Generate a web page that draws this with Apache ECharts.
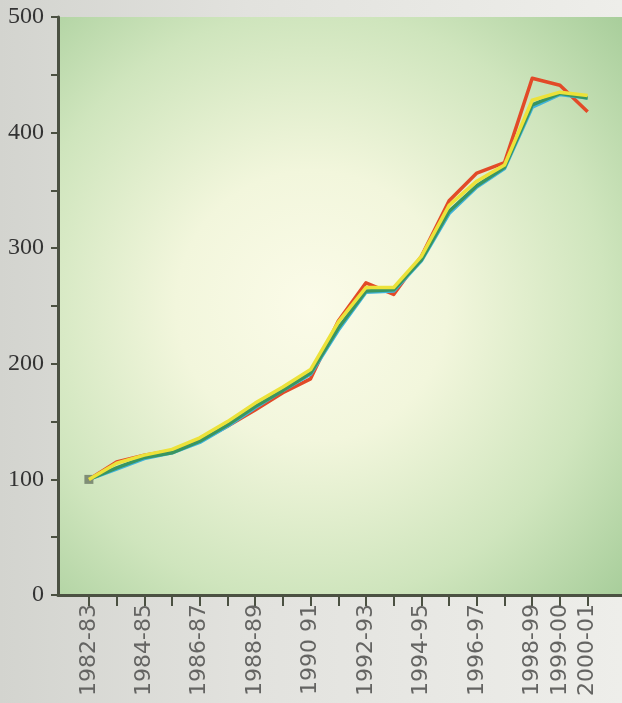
<!DOCTYPE html>
<html>
<head>
<meta charset="utf-8">
<script src="https://cdn.jsdelivr.net/npm/echarts@6/dist/echarts.min.js"></script>
<style>
html,body{margin:0;padding:0;}
body{width:622px;height:703px;background:linear-gradient(90deg,#d3d4cf 0%,#e2e2de 40%,#eeeeea 100%);}
#c{width:622px;height:703px;}
</style>
</head>
<body>
<div id="c"></div>
<script>
const categories = ['1982-83','1983-84','1984-85','1985-86','1986-87','1987-88','1988-89','1989-90','1990 91','1991-92','1992-93','1993-94','1994-95','1995-96','1996-97','1997-98','1998-99','1999-00','2000-01'];
const labelIndices = [0,2,4,6,8,10,12,14,16,17,18];
const yTicks = [0,100,200,300,400,500];
const seriesCyan   = [100,109,118,123,132,146,162,177,191,229,262,263,289,330,353,369,422,433,430];
const seriesGreen  = [100,110,119,123,133,147,163,177,192,231,263,264,290,332,354,370,424,434,430];
const seriesYellow = [100,114,121,126,136,150,166,180,195,236,266,266,293,337,358,372,428,435,432];
const seriesRed    = [100,115,121,125,133,146,160,175,187,237,270,260,293,341,365,374,447,441,418];

function pairs(arr){ return arr.map((v,i)=>[i,v]); }
const axisColor = '#4b5142';

const chart = echarts.init(document.getElementById('c'), null, {renderer:'canvas'});
function lineSeries(name, arr, color, z){
  return {name, type:'line', data: pairs(arr), symbol:'none', smooth:false, z,
    lineStyle:{color, width:3.5, join:'round'}};
}
const green = lineSeries('green', seriesGreen, '#3a9560', 4);
green.data[0] = {value:[0, seriesGreen[0]], symbol:'rect', symbolSize:9, itemStyle:{color:'#7f8e76'}};
green.showSymbol = true;

chart.setOption({
  animation:false,
  backgroundColor:'transparent',
  grid:{left:58, top:17, right:-2, bottom:108, show:true, borderWidth:0,
    backgroundColor:{type:'radial', x:0.45, y:0.5, r:0.8,
      colorStops:[{offset:0,color:'#fbfbe8'},{offset:0.3,color:'#f2f6dc'},{offset:0.65,color:'#cfe5bd'},{offset:1,color:'#a0c994'}]}},
  xAxis:{type:'value', min:-1.115, max:19.24,
    axisLine:{show:true, onZero:false, lineStyle:{color:axisColor, width:3}},
    axisTick:{show:true, customValues:categories.map((c,i)=>i), length:11, lineStyle:{color:axisColor, width:2}},
    axisLabel:{show:true, customValues:labelIndices, rotate:90, margin:9,
      formatter:(v)=>categories[Math.round(v)] ?? '',
      fontFamily:'DejaVu Sans', fontSize:22, color:'#646462'},
    splitLine:{show:false}},
  yAxis:{type:'value', min:0, max:500, interval:50,
    axisLine:{show:true, onZero:false, lineStyle:{color:axisColor, width:3}},
    axisTick:{show:true, length:7, lineStyle:{color:axisColor, width:2}},
    axisLabel:{margin:14, formatter:(v)=> yTicks.includes(v) ? String(v) : '',
      fontFamily:'Liberation Serif', fontSize:24, color:'#333'},
    splitLine:{show:false}},
  series:[
    lineSeries('cyan', seriesCyan, '#3fb3dc', 3),
    green,
    lineSeries('yellow', seriesYellow, '#ece23a', 5),
    lineSeries('red', seriesRed, '#e24a28', 2)
  ]
});
</script>
</body>
</html>
